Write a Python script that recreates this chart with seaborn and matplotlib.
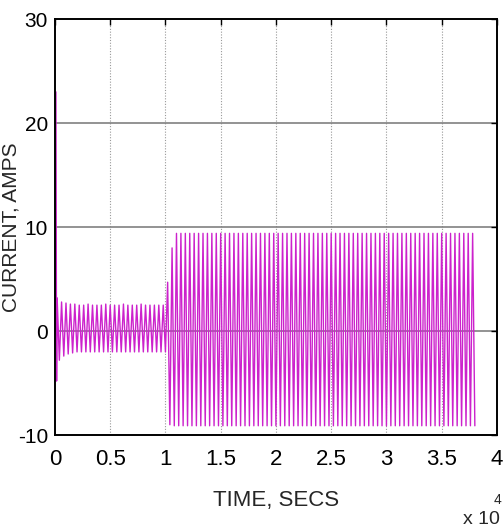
import numpy as np
import pandas as pd
import matplotlib
matplotlib.use("Agg")
import matplotlib.pyplot as plt
import seaborn as sns

# Values
start_t = [0, 90, 150]             # switch-on spike
start_i = [0.0, 23.0, -4.8]
period = 400                      # one oscillation, secs
seg1_t0 = 200
seg1_hi = [3.2, 2.8, 2.7, 2.6, 2.6, 2.5, 2.5, 2.6, 2.5, 2.5, 2.5, 2.6, 2.5,
           2.5, 2.5, 2.6, 2.5, 2.5, 2.5, 2.6, 2.5, 2.5, 2.5, 2.5, 2.5]
seg1_lo = [-2.8, -2.4, -2.2, -2.1, -2.0, -2.0, -2.0, -2.0, -2.0, -2.0, -2.0, -2.0, -2.0,
           -2.0, -2.0, -2.0, -2.0, -2.0, -2.0, -2.0, -2.0, -2.0, -2.0, -2.0, -2.0]
seg2_t0 = 10200
seg2_hi = [4.7, 8.0, 9.4, 9.4, 9.4, 9.4, 9.4, 9.4, 9.4, 9.4,
           9.4, 9.4, 9.4, 9.4, 9.4, 9.4, 9.4, 9.4, 9.4, 9.4,
           9.4, 9.4, 9.4, 9.4, 9.4, 9.4, 9.4, 9.4, 9.4, 9.4,
           9.4, 9.4, 9.4, 9.4, 9.4, 9.4, 9.4, 9.4, 9.4, 9.4,
           9.4, 9.4, 9.4, 9.4, 9.4, 9.4, 9.4, 9.4, 9.4, 9.4,
           9.4, 9.4, 9.4, 9.4, 9.4, 9.4, 9.4, 9.4, 9.4, 9.4,
           9.4, 9.4, 9.4, 9.4, 9.4, 9.4, 9.4, 9.4, 9.4, 9.4]
seg2_lo = [-9.0, -9.1, -9.1, -9.1, -9.1, -9.1, -9.1, -9.1, -9.1, -9.1,
           -9.1, -9.1, -9.1, -9.1, -9.1, -9.1, -9.1, -9.1, -9.1, -9.1,
           -9.1, -9.1, -9.1, -9.1, -9.1, -9.1, -9.1, -9.1, -9.1, -9.1,
           -9.1, -9.1, -9.1, -9.1, -9.1, -9.1, -9.1, -9.1, -9.1, -9.1,
           -9.1, -9.1, -9.1, -9.1, -9.1, -9.1, -9.1, -9.1, -9.1, -9.1,
           -9.1, -9.1, -9.1, -9.1, -9.1, -9.1, -9.1, -9.1, -9.1, -9.1,
           -9.1, -9.1, -9.1, -9.1, -9.1, -9.1, -9.1, -9.1, -9.1, -9.1]
x_ticks = [0, 0.5, 1, 1.5, 2, 2.5, 3, 3.5, 4]
x_labels = ["0", "0.5", "1", "1.5", "2", "2.5", "3", "3.5", "4"]
y_ticks = [-10, 0, 10, 20, 30]


def zigzag(t0, hi, lo):
    # alternate the read peaks, high then low, half a period apart
    t = t0 + np.arange(len(hi)) * period
    tt = np.column_stack([t, t + period / 2]).ravel()
    vv = np.column_stack([hi, lo]).ravel()
    return tt, vv


t1, v1 = zigzag(seg1_t0, seg1_hi, seg1_lo)
t2, v2 = zigzag(seg2_t0, seg2_hi, seg2_lo)
df = pd.DataFrame({
    "t": np.concatenate([start_t, t1, t2]) / 1e4,
    "i": np.concatenate([start_i, v1, v2]),
})

sns.set_theme(style="white")
plt.rcParams["font.family"] = ["Liberation Sans", "DejaVu Sans"]

fig = plt.figure(figsize=(5.04, 5.30), dpi=100)
ax = fig.add_axes([0.109, 0.179, 0.877, 0.785])

sns.lineplot(data=df, x="t", y="i", sort=False, estimator=None,
             color="#cc22cc", linewidth=1.0, ax=ax)

ax.set_xlim(0, 4)
ax.set_ylim(-10, 30)
ax.set_xticks(x_ticks)
ax.set_xticklabels(x_labels)
ax.set_yticks(y_ticks)
ax.set_yticklabels([str(v) for v in y_ticks])

for x in x_ticks[1:-1]:
    ax.axvline(x, color="#999999", lw=0.8, ls=(0, (1, 1.5)), zorder=0)
for y in y_ticks[1:-1]:
    ax.axhline(y, color="#808080", lw=1.2, zorder=0)

for s in ax.spines.values():
    s.set_color("black")
    s.set_linewidth(1.4)

ax.tick_params(direction="in", length=4, width=1, colors="black",
               top=True, right=True, labelsize=16)
ax.tick_params(axis="x", pad=10)
ax.tick_params(axis="y", pad=5, labelsize=15)

ax.set_xlabel("")
ax.set_ylabel("CURRENT, AMPS", fontsize=15)
ax.yaxis.set_label_coords(-0.078, 0.5)
fig.text(0.548, 0.055, "TIME, SECS", fontsize=16, ha="center", va="center")
fig.text(0.955, 0.020, "x 10", fontsize=14, ha="center", va="center")
fig.text(0.988, 0.057, "4", fontsize=10, ha="center", va="center")

fig.savefig("out.png", dpi=100)
